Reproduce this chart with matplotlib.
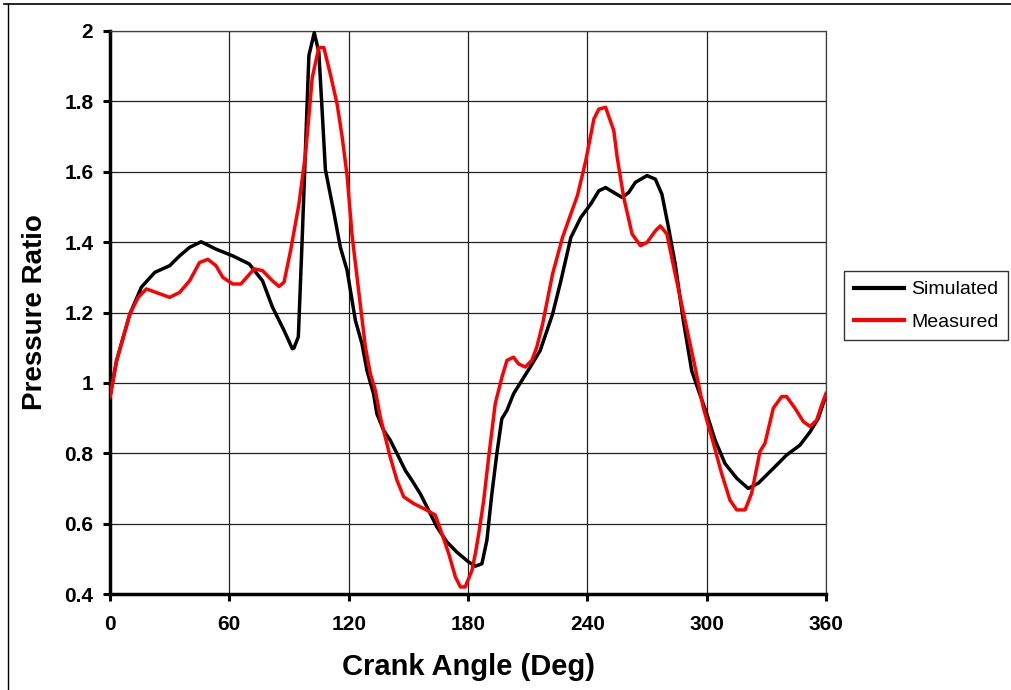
import matplotlib
matplotlib.use("Agg")
import matplotlib.pyplot as plt
from matplotlib.lines import Line2D

plt.rcParams['font.family'] = ['Liberation Sans', 'DejaVu Sans']

# Simulated pressure ratio vs crank angle
sim_angle = [0, 3.3, 10, 15.8, 22.5, 30, 35, 40, 45.8, 53.3, 61.7, 70, 76.7, 81.7,
             87.5, 91.7, 92.5, 94.7, 96.7, 100, 102.7, 105, 106.4, 108.3, 112.5,
             115.8, 119.2, 123.4, 126.7, 129.2, 132.5, 134.2, 137.6, 140.9, 144.3,
             148.5, 151.8, 156, 159.4, 164.4, 169.4, 174.4, 180.3, 183.7, 187,
             189.5, 192, 194.5, 197, 199.6, 202.9, 207.1, 211.3, 216.3, 222.5,
             226.7, 231.7, 236.7, 241.7, 245.8, 249.2, 253.3, 257.5, 260.8, 264.2,
             270, 274.2, 277.5, 280.8, 284.2, 288.3, 292.5, 295.8, 300, 304.2,
             309.2, 315.1, 320.9, 326, 333.5, 340.2, 346.9, 352, 356.1, 360]
sim_ratio = [0.96, 1.063, 1.196, 1.272, 1.314, 1.333, 1.361, 1.385, 1.401, 1.38,
             1.361, 1.338, 1.29, 1.215, 1.149, 1.097, 1.099, 1.131, 1.42, 1.93,
             1.995, 1.94, 1.80, 1.606, 1.486, 1.386, 1.32, 1.177, 1.111, 1.035,
             0.969, 0.912, 0.865, 0.837, 0.799, 0.751, 0.723, 0.685, 0.647, 0.59,
             0.548, 0.519, 0.491, 0.479, 0.486, 0.553, 0.685, 0.799, 0.898, 0.922,
             0.969, 1.007, 1.045, 1.092, 1.195, 1.29, 1.413, 1.47, 1.508, 1.546,
             1.555, 1.541, 1.527, 1.541, 1.57, 1.589, 1.579, 1.536, 1.442, 1.337,
             1.176, 1.034, 0.98, 0.913, 0.838, 0.771, 0.729, 0.70, 0.715, 0.757,
             0.795, 0.823, 0.861, 0.899, 0.965]

# Measured pressure ratio vs crank angle
meas_angle = [0, 3.3, 6.7, 10, 14.2, 18.3, 30, 35, 40, 45, 49.2, 53.3, 56.7, 61.7,
              65.8, 72.5, 76.7, 81.7, 85, 87.5, 90.8, 95, 98.3, 101.7, 105, 107.5,
              110.8, 114.2, 116.7, 119.2, 121.7, 125, 128.4, 130.9, 133.4, 135.9,
              138.4, 140.9, 144.3, 147.7, 152.7, 159.4, 163.6, 166.9, 170.3, 173.7,
              176.2, 178.6, 182, 183.7, 185.4, 187.9, 190.4, 193.7, 197.1, 199.6,
              202.9, 205.4, 208.8, 212.1, 214.6, 217.5, 222.5, 227.5, 231.7, 235,
              239.2, 243.3, 245.8, 249.2, 253.3, 255, 258.3, 262.5, 266.7, 270,
              274.2, 276.7, 280, 284.2, 289.2, 294.2, 298.3, 303.4, 307.5, 311.7,
              315.1, 319.3, 322.6, 326.8, 329.3, 333.5, 337.7, 340.2, 344.4, 348.6,
              352, 355.3, 357.8, 360]
meas_ratio = [0.96, 1.063, 1.13, 1.196, 1.243, 1.267, 1.243, 1.257, 1.29, 1.342,
              1.351, 1.333, 1.3, 1.281, 1.281, 1.324, 1.319, 1.29, 1.274, 1.286,
              1.376, 1.508, 1.65, 1.868, 1.953, 1.953, 1.877, 1.792, 1.70, 1.59,
              1.42, 1.263, 1.102, 1.026, 0.979, 0.903, 0.846, 0.789, 0.723, 0.676,
              0.657, 0.638, 0.624, 0.571, 0.515, 0.448, 0.42, 0.42, 0.467, 0.515,
              0.571, 0.666, 0.789, 0.941, 1.017, 1.064, 1.073, 1.054, 1.045, 1.064,
              1.102, 1.167, 1.309, 1.413, 1.48, 1.532, 1.631, 1.75, 1.778, 1.783,
              1.717, 1.641, 1.527, 1.423, 1.39, 1.399, 1.432, 1.446, 1.423, 1.309,
              1.176, 1.044, 0.93, 0.828, 0.743, 0.667, 0.639, 0.639, 0.686, 0.805,
              0.828, 0.928, 0.961, 0.961, 0.928, 0.89, 0.876, 0.894, 0.937, 0.97]

x_ticks = [0, 60, 120, 180, 240, 300, 360]
y_ticks = [0.4, 0.6, 0.8, 1.0, 1.2, 1.4, 1.6, 1.8, 2.0]
y_tick_labels = ['0.4', '0.6', '0.8', '1', '1.2', '1.4', '1.6', '1.8', '2']

W, H = 1012, 690
fig = plt.figure(figsize=(W / 100, H / 100), dpi=100)
ax = fig.add_axes([110 / W, 1 - 594 / H, (826 - 110) / W, (594 - 31) / H])

ax.plot(sim_angle, sim_ratio, color='black', lw=2.5, label='Simulated', zorder=3)
ax.plot(meas_angle, meas_ratio, color='#ff0000', lw=2.5, label='Measured', zorder=4)

ax.set_xlim(0, 360)
ax.set_ylim(0.4, 2.0)
ax.set_xticks(x_ticks)
ax.set_xticklabels([str(v) for v in x_ticks])
ax.set_yticks(y_ticks)
ax.set_yticklabels(y_tick_labels)

ax.grid(True, color='#202020', lw=0.9)
ax.set_axisbelow(True)

for side in ('top', 'right'):
    ax.spines[side].set_linewidth(0.9)
    ax.spines[side].set_color('#404040')
for side in ('left', 'bottom'):
    ax.spines[side].set_linewidth(2.5)
    ax.spines[side].set_color('black')

ax.tick_params(axis='both', direction='out', length=5, width=2.2, color='black',
               labelsize=15)
ax.tick_params(axis='x', pad=10)
ax.tick_params(axis='y', pad=7)
for lab in ax.get_xticklabels() + ax.get_yticklabels():
    lab.set_fontweight('bold')

ax.set_xlabel('Crank Angle (Deg)', fontsize=21, fontweight='bold', labelpad=14)
ax.set_ylabel('Pressure Ratio', fontsize=20, fontweight='bold', labelpad=12)

leg = fig.legend(loc='upper left', bbox_to_anchor=(844 / W, 1 - 271 / H),
                 bbox_transform=fig.transFigure, fontsize=14, frameon=True,
                 fancybox=False, handlelength=2.6, handletextpad=0.35,
                 labelspacing=0.75, borderpad=0.5, borderaxespad=0)
leg.get_frame().set_edgecolor('black')
leg.get_frame().set_linewidth(1.0)
for h in leg.get_lines():
    h.set_linewidth(3)

# outer frame lines along the top and left edges
fig.add_artist(Line2D([4 / W, 1], [1 - 4 / H, 1 - 4 / H], transform=fig.transFigure,
                      color='black', lw=1.2))
fig.add_artist(Line2D([8 / W, 8 / W], [0, 1 - 4 / H], transform=fig.transFigure,
                      color='black', lw=1.0))

fig.savefig('out.png', dpi=100)
